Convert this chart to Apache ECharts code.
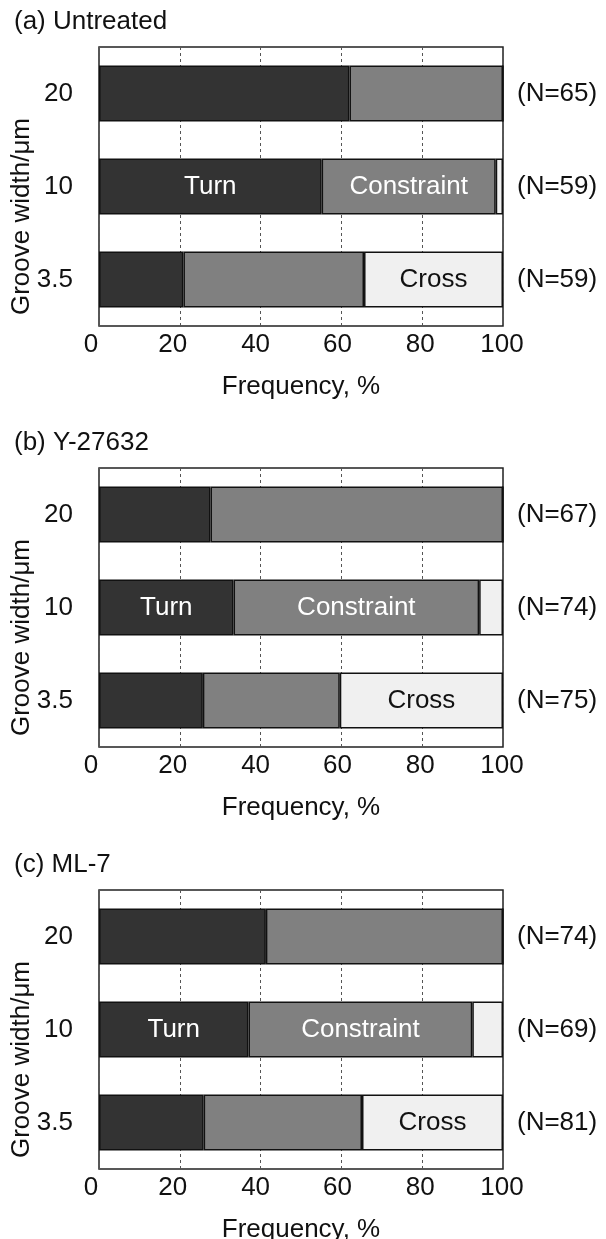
<!DOCTYPE html>
<html>
<head>
<meta charset="utf-8">
<script src="https://cdn.jsdelivr.net/npm/echarts@6/dist/echarts.min.js"></script>
<style>
  html, body { margin: 0; padding: 0; background: #fff; }
  #chart { width: 606px; height: 1239px; }
</style>
</head>
<body>
<div id="chart"></div>
<script>
// groove widths, top to bottom
const widths = ['20', '10', '3.5'];
const panelTitles = ['(a) Untreated', '(b) Y-27632', '(c) ML-7'];

// frequency (%) per groove width
const turnA = [62.0, 55.1, 20.9];
const constraintA = [38.0, 43.1, 44.7];
const crossA = [0, 1.8, 34.4];
const countsA = [65, 59, 59];

const turnB = [27.6, 33.3, 25.7];
const constraintB = [72.4, 60.8, 33.9];
const crossB = [0, 5.9, 40.4];
const countsB = [67, 74, 75];

const turnC = [41.3, 37.0, 25.9];
const constraintC = [58.7, 55.4, 39.2];
const crossC = [0, 7.6, 34.9];
const countsC = [74, 69, 81];

const xTicks = [0, 20, 40, 60, 80, 100];

const panels = [
  { turn: turnA, constraint: constraintA, cross: crossA, counts: countsA },
  { turn: turnB, constraint: constraintB, cross: crossB, counts: countsB },
  { turn: turnC, constraint: constraintC, cross: crossC, counts: countsC }
];
const tops = [47, 468, 890];
const FS = 26;
const font = 'Liberation Sans, Arial, sans-serif';

// tick labels in the original sit a little left of their ticks
const tickRich = {};
xTicks.forEach(v => {
  const shift = Math.round(8 - 0.07 * v);
  tickRich['t' + v] = { fontSize: FS, color: '#111', fontFamily: font, padding: [0, 2 * shift, 0, 0] };
});

const chart = echarts.init(document.getElementById('chart'));

const grid = [], xAxis = [], yAxis = [], series = [], title = [];

panels.forEach((p, i) => {
  title.push({
    text: panelTitles[i],
    left: 14,
    top: tops[i] - 38,
    padding: 0,
    textStyle: { fontSize: FS, fontWeight: 'normal', color: '#111', fontFamily: font }
  });

  grid.push({
    left: 99, right: 103, top: tops[i], height: 279,
    outerBoundsMode: 'none',
    containLabel: false,
    show: true, borderColor: '#222', borderWidth: 1.5, backgroundColor: '#fff'
  });

  xAxis.push({
    gridIndex: i,
    type: 'value',
    min: xTicks[0],
    max: xTicks[xTicks.length - 1],
    interval: 20,
    axisLine: { show: false },
    axisTick: { show: false },
    splitLine: { show: true, lineStyle: { type: [3, 3], color: '#555', width: 1 } },
    axisLabel: {
      margin: 6,
      formatter: v => '{t' + v + '|' + v + '}',
      rich: tickRich
    },
    name: 'Frequency, %',
    nameLocation: 'middle',
    nameGap: 48,
    nameMoveOverlap: false,
    nameTextStyle: { fontSize: FS, color: '#111', fontFamily: font }
  });

  yAxis.push({
    gridIndex: i,
    type: 'category',
    inverse: true,
    data: widths,
    axisLine: { show: false },
    axisTick: { show: false },
    axisLabel: { fontSize: FS, color: '#111', margin: 26, fontFamily: font },
    name: 'Groove width/\u03bcm',
    nameLocation: 'middle',
    nameRotate: 90,
    nameGap: 64,
    nameMoveOverlap: false,
    nameTextStyle: { fontSize: FS, color: '#111', fontFamily: font, padding: [0, 60, 0, 0] }
  });
  yAxis.push({
    gridIndex: i,
    type: 'category',
    inverse: true,
    position: 'right',
    data: p.counts.map(n => '(N=' + n + ')'),
    axisLine: { show: false },
    axisTick: { show: false },
    axisLabel: { fontSize: FS, color: '#111', margin: 14, fontFamily: font }
  });

  const parts = [
    { name: 'Turn', data: p.turn, color: '#333333', text: '#fff', labelRow: 1 },
    { name: 'Constraint', data: p.constraint, color: '#808080', text: '#fff', labelRow: 1 },
    { name: 'Cross', data: p.cross, color: '#f0f0f0', text: '#111', labelRow: 2 }
  ];
  parts.forEach(s => {
    series.push({
      name: s.name,
      type: 'bar',
      stack: 'p' + i,
      xAxisIndex: i,
      yAxisIndex: 2 * i,
      barWidth: 56,
      itemStyle: { color: s.color, borderColor: '#111', borderWidth: 1.5 },
      label: {
        position: 'inside',
        formatter: s.name,
        fontSize: FS,
        color: s.text,
        fontFamily: font
      },
      data: s.data.map((v, k) => ({ value: v, label: { show: k === s.labelRow } }))
    });
  });
});

chart.setOption({
  animation: false,
  backgroundColor: '#fff',
  textStyle: { fontFamily: font },
  title, grid, xAxis, yAxis, series
});
</script>
</body>
</html>
